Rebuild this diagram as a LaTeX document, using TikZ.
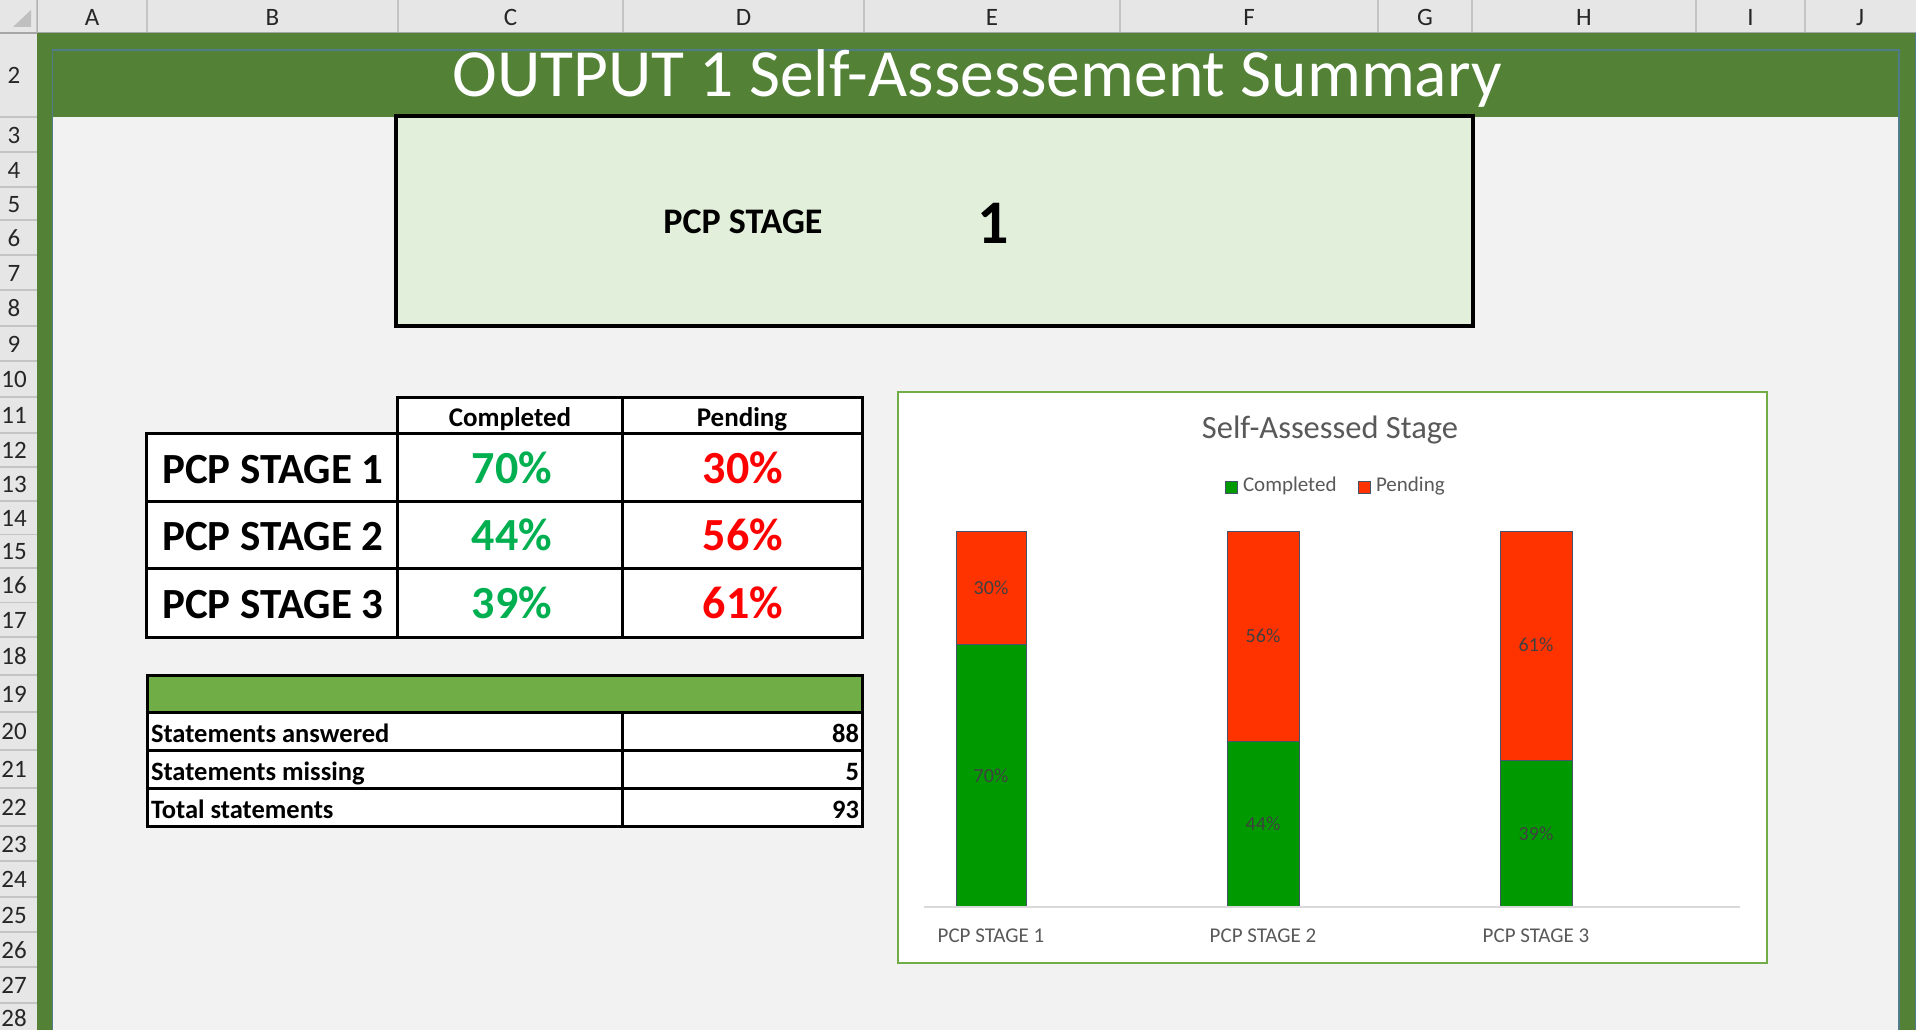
\documentclass[tikz,border=0pt]{standalone}
\usepackage{fontspec}
\setmainfont{Carlito}
\definecolor{xlgreen}{HTML}{538135}
\definecolor{sheetgrey}{HTML}{F2F2F2}
\definecolor{hdrgrey}{HTML}{E6E6E6}
\definecolor{hdrline}{HTML}{C4C4C4}
\definecolor{framebl}{HTML}{4F7C88}
\definecolor{boxgreen}{HTML}{E2EFDA}
\definecolor{sumgreen}{HTML}{70AD47}
\definecolor{pctgreen}{HTML}{00B050}
\definecolor{pctred}{HTML}{FF0000}
\definecolor{bargreen}{HTML}{009900}
\definecolor{barred}{HTML}{FF3300}
\definecolor{barline}{HTML}{44546A}
\definecolor{charttext}{HTML}{595959}
\definecolor{labeltext}{HTML}{404040}
\definecolor{axisgrey}{HTML}{D9D9D9}
\begin{document}
\begin{tikzpicture}[x=1pt,y=-1pt,
  every node/.style={inner sep=0pt,outer sep=0pt},
  hdrtxt/.style={font=\fontsize{25}{28}\selectfont,text=black!85,anchor=base},
  titletxt/.style={font=\fontsize{67.5}{72}\selectfont,text=white,anchor=base},
  tblline/.style={draw=black,line width=3pt},
  colhead/.style={font=\bfseries\fontsize{27}{30}\selectfont,anchor=base},
  stagetxt/.style={font=\bfseries\fontsize{43}{46}\selectfont,anchor=base},
  pcttxt/.style={font=\bfseries\fontsize{46}{50}\selectfont,anchor=base},
  sumtxt/.style={font=\bfseries\fontsize{26.5}{28}\selectfont,anchor=base west},
  sumnum/.style={font=\bfseries\fontsize{26.5}{28}\selectfont,anchor=base east},
  barseg/.style={draw=barline,line width=1pt},
  barlabel/.style={font=\fontsize{20}{22}\selectfont,text=labeltext,anchor=center},
  catlabel/.style={font=\fontsize{21}{22}\selectfont,text=charttext,anchor=base},
  legtxt/.style={font=\fontsize{21}{24}\selectfont,text=charttext,anchor=base west}
]
\useasboundingbox (0,0) rectangle (1916,1030);
\fill[white] (0,0) rectangle (1916,1030);
% spreadsheet headers
\fill[hdrgrey] (0,0) rectangle (1916,33);
\fill[hdrgrey] (0,0) rectangle (37,1030);
\fill[black!25] (31,10) -- (31,27) -- (13,27) -- cycle;
\foreach \xx in {37,147,398,623,864,1120,1378,1472,1696,1805}
  \draw[hdrline,line width=1.5pt] (\xx,0) -- (\xx,33);
\draw[black!35,line width=1.5pt] (0,33) -- (1916,33);
\foreach \yy in {117,152,187,220,255,290,326,361,397,433,467,501,534.5,568,602.5,637,675,712,750,788,826,861,897,932,967,1003}
  \draw[hdrline,line width=1.5pt] (0,\yy) -- (37,\yy);
\draw[black!30,line width=1pt] (37,0) -- (37,1030);
\foreach \lab/\xx in {A/92,B/272.5,C/510.5,D/743.5,E/992,F/1249,G/1425,H/1584,I/1750.5,J/1860}
  \node[hdrtxt] (col\lab) at (\xx,26) {\lab};
\foreach \lab/\yy in {2/75,3/134.5,4/169.5,5/203.5,6/237.5,7/272.5,8/308,9/343.5,10/379,11/415,12/450,13/484,14/517.75,15/551.25,16/585.25,17/619.75,18/656,19/693.5,20/731,21/769,22/807,23/843.5,24/879,25/914.5,26/949.5,27/985,28/1018}
  \node[hdrtxt] (row\lab) at (14,\yy+8.5) {\lab};
% green page and grey sheet
\fill[xlgreen] (37,33) rectangle (1916,1030);
\fill[sheetgrey] (52,117) rectangle (1899,1030);
\draw[framebl,line width=1.5pt] (52.5,1030) -- (52.5,50) -- (1899,50) -- (1899,1030);
\draw[framebl,line width=1pt] (1915.5,33) -- (1915.5,1030);
\node[titletxt] (title) at (977,97) {OUTPUT 1 Self-Assessement Summary};
% PCP stage box
\draw[fill=boxgreen,draw=black,line width=3.5pt] (396,116) rectangle (1473,326);
\node[font=\bfseries\fontsize{36}{40}\selectfont,anchor=base] (stagelab) at (743,233) {PCP STAGE};
\node[font=\bfseries\fontsize{62}{66}\selectfont,anchor=base] (stagenum) at (993,243) {1};
% main table
\fill[white] (397,397) rectangle (862,433);
\fill[white] (146,433) rectangle (862,637);
\draw[tblline] (397,397) rectangle (862,433);
\draw[tblline] (146,433) rectangle (862,637);
\draw[tblline] (622,397) -- (622,637);
\draw[tblline] (397,433) -- (397,637);
\draw[tblline] (146,501) -- (862,501);
\draw[tblline] (146,568) -- (862,568);
\node[colhead] (hcomp) at (510,426) {Completed};
\node[colhead] (hpend) at (742,426) {Pending};
\node[stagetxt] (st1) at (273,483) {PCP STAGE 1};
\node[stagetxt] (st2) at (273,550) {PCP STAGE 2};
\node[stagetxt] (st3) at (273,618) {PCP STAGE 3};
\node[pcttxt,text=pctgreen] (c1) at (512,483) {70\%};
\node[pcttxt,text=pctgreen] (c2) at (512,550) {44\%};
\node[pcttxt,text=pctgreen] (c3) at (512,618) {39\%};
\node[pcttxt,text=pctred] (p1) at (743,483) {30\%};
\node[pcttxt,text=pctred] (p2) at (743,550) {56\%};
\node[pcttxt,text=pctred] (p3) at (743,618) {61\%};
% summary table
\fill[sumgreen] (147,675) rectangle (862,712);
\fill[white] (147,712) rectangle (862,826);
\draw[tblline] (147,675) rectangle (862,826);
\draw[tblline] (147,712) -- (862,712);
\draw[tblline] (147,750) -- (862,750);
\draw[tblline] (147,788) -- (862,788);
\draw[tblline] (622,712) -- (622,826);
\node[sumtxt] (sa) at (151,742) {Statements answered};
\node[sumtxt] (sm) at (151,780) {Statements missing};
\node[sumtxt] (stt) at (151,818) {Total statements};
\node[sumnum] (na) at (859,742) {88};
\node[sumnum] (nm) at (859,780) {5};
\node[sumnum] (nt) at (859,818) {93};
% chart
\draw[draw=sumgreen,fill=white,line width=2pt] (898,392) rectangle (1767,963);
\node[font=\fontsize{32.5}{34}\selectfont,text=charttext,anchor=base] (ctitle) at (1330,438) {Self-Assessed Stage};
\draw[barseg,fill=bargreen] (1225,481) rectangle (1237,493);
\node[legtxt] (lcomp) at (1243,491) {Completed};
\draw[barseg,fill=barred] (1358,481) rectangle (1370,493);
\node[legtxt] (lpend) at (1376,491) {Pending};
% bars
\draw[barseg,fill=barred] (956,531) rectangle (1026,644);
\draw[barseg,fill=bargreen] (956,644) rectangle (1026,907);
\draw[barseg,fill=barred] (1227,531) rectangle (1299,741);
\draw[barseg,fill=bargreen] (1227,741) rectangle (1299,907);
\draw[barseg,fill=barred] (1500,531) rectangle (1572,760);
\draw[barseg,fill=bargreen] (1500,760) rectangle (1572,907);
\draw[axisgrey,line width=2pt] (924,907) -- (1740,907);
\node[barlabel] (b1p) at (991,588) {30\%};
\node[barlabel] (b1c) at (991,776) {70\%};
\node[barlabel] (b2p) at (1263,636) {56\%};
\node[barlabel] (b2c) at (1263,824) {44\%};
\node[barlabel] (b3p) at (1536,645) {61\%};
\node[barlabel] (b3c) at (1536,834) {39\%};
\node[catlabel] (cat1) at (991,942) {PCP STAGE 1};
\node[catlabel] (cat2) at (1263,942) {PCP STAGE 2};
\node[catlabel] (cat3) at (1536,942) {PCP STAGE 3};
\end{tikzpicture}
\end{document}
